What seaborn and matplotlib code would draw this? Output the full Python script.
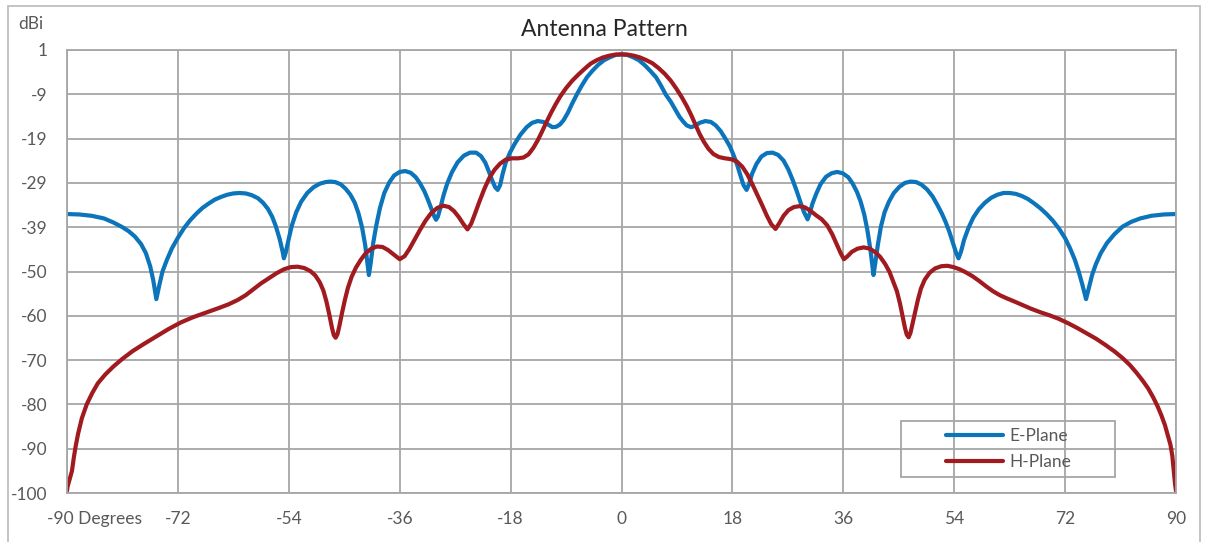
import numpy as np
import pandas as pd
import matplotlib
matplotlib.use("Agg")
import matplotlib.pyplot as plt
from matplotlib.patches import Rectangle
import seaborn as sns

# E-Plane (blue), degrees / dBi
e_deg = [-90, -88, -86, -84, -82.5, -81, -80, -79, -78, -77.2,
         -76.5, -76.0, -75.5, -75.0, -74.5, -73.8, -73, -72, -71, -70,
         -69, -68, -67, -66, -65, -64, -63, -62, -61, -60,
         -59, -58.2, -57.4, -56.7, -56.1, -55.5, -55.0, -54.8, -54.5, -54.0,
         -53.5, -52.8, -52.0, -51.0, -50.0, -49.0, -48.0, -47.3, -46.5, -45.6,
         -44.8, -44.0, -43.3, -42.7, -42.1, -41.6, -41.2, -41.0, -40.7, -40.3,
         -39.8, -39.2, -38.5, -37.7, -36.9, -36.0, -35.1, -34.2, -33.4, -32.7,
         -32.0, -31.4, -30.8, -30.4, -30.1, -29.8, -29.4, -28.9, -28.3, -27.5,
         -26.6, -25.6, -24.6, -23.6, -22.8, -22.1, -21.5, -21.0, -20.5, -20.1,
         -19.7, -19.3, -18.8, -18.1, -17.3, -16.4, -15.4, -14.5, -13.6, -12.7,
         -11.9, -11.2, -10.6, -10.0, -9.4, -8.7, -8.0, -7.2, -6.4, -5.6,
         -4.7, -3.8, -2.8, -1.8, -0.9, 0,
         0.9, 1.8, 2.8, 3.8, 4.7, 5.6, 6.4, 7.2, 8.0, 8.7,
         9.4, 10.0, 10.6, 11.3, 11.9, 12.7, 13.6, 14.5, 15.3, 16.1,
         16.9, 17.6, 18.2, 18.8, 19.3, 19.8, 20.3, 20.7, 21.2, 21.9,
         22.7, 23.6, 24.5, 25.4, 26.3, 27.1, 27.8, 28.4, 29.0, 29.6,
         30.2, 30.5, 31.0, 31.6, 32.3, 33.2, 34.1, 35.0, 35.9, 36.8,
         37.5, 38.2, 38.8, 39.4, 39.9, 40.4, 40.7, 40.9, 41.2, 41.6,
         42.1, 42.7, 43.4, 44.2, 45.1, 46.0, 46.9, 47.8, 48.7, 49.6,
         50.5, 51.3, 52.0, 52.6, 53.2, 53.8, 54.3, 54.7, 55.1, 55.6,
         56.3, 57.1, 58.0, 59.0, 60.0, 61.0, 62.0, 63.0, 64.0, 65.0,
         66.0, 67.0, 68.0, 69.0, 70.0, 71.0, 72.0, 72.8, 73.6, 74.2,
         74.8, 75.4, 75.9, 76.4, 77.0, 77.8, 78.8, 80.0, 81.3, 82.7,
         84.2, 86.0, 88.0, 90.0]
e_dbi = [-36.4, -36.5, -36.8, -37.4, -38.3, -39.4, -40.3, -41.5, -43.2, -45.3,
         -48.3, -51.5, -55.8, -52.5, -49.5, -46.9, -44.3, -41.8, -39.6, -37.8,
         -36.3, -35.0, -34.0, -33.1, -32.5, -32.0, -31.7, -31.6, -31.7, -32.1,
         -32.8, -33.8, -35.2, -37.0, -39.2, -42.0, -45.0, -46.5, -45.2, -42.0,
         -39.0, -36.0, -33.6, -31.6, -30.3, -29.5, -29.1, -29.0, -29.1, -29.6,
         -30.6, -32.0, -33.8, -36.2, -39.5, -43.5, -48.0, -50.3, -47.5, -43.0,
         -39.0, -35.0, -31.6, -29.2, -27.6, -26.8, -26.6, -27.0, -28.0, -29.4,
         -31.2, -33.2, -35.4, -36.9, -37.7, -37.0, -35.0, -32.2, -29.5, -26.8,
         -24.6, -23.1, -22.4, -22.4, -23.2, -24.7, -26.8, -28.7, -30.3, -30.9,
         -29.8, -27.3, -24.7, -22.4, -20.3, -18.3, -16.6, -15.6, -15.2, -15.4,
         -16.0, -16.6, -16.5, -16.0, -15.0, -13.3, -11.2, -9.0, -7.0, -5.2,
         -3.7, -2.4, -1.3, -0.6, -0.1, 0.0,
         -0.1, -0.6, -1.3, -2.5, -3.8, -5.2, -7.1, -9.2, -10.8, -12.5,
         -14.2, -15.3, -16.2, -16.6, -16.3, -15.6, -15.2, -15.4, -16.2, -17.5,
         -19.3, -21.0, -23.0, -25.3, -27.6, -29.8, -30.9, -29.6, -27.2, -25.0,
         -23.3, -22.5, -22.4, -22.9, -24.2, -26.3, -28.7, -31.0, -33.5, -35.9,
         -37.6, -36.5, -34.0, -31.8, -29.6, -27.9, -27.1, -26.8, -27.1, -28.0,
         -29.4, -31.3, -33.5, -36.5, -40.0, -44.5, -48.0, -50.3, -47.5, -43.5,
         -39.3, -36.0, -33.6, -31.6, -30.2, -29.3, -29.0, -29.1, -29.7, -30.8,
         -32.4, -34.4, -36.3, -38.2, -40.4, -43.0, -45.2, -46.5, -45.0, -42.3,
         -39.6, -37.2, -35.3, -33.8, -32.7, -32.0, -31.6, -31.6, -31.8, -32.3,
         -33.0, -34.0, -35.1, -36.4, -37.9, -39.7, -41.9, -44.2, -46.9, -49.5,
         -52.5, -55.8, -53.0, -50.2, -47.8, -45.3, -43.0, -41.0, -39.3, -38.2,
         -37.4, -36.8, -36.5, -36.4]

# H-Plane (red)
h_deg = [-90, -89.9, -89.6, -89.2, -88.9, -88.6, -88.2, -87.6, -86.8, -85.9,
         -85.0, -83.8, -82.5, -81.0, -79.3, -77.5, -75.5, -73.5, -71.5, -69.5,
         -67.5, -65.5, -63.8, -62.3, -61.0, -59.7, -58.5, -57.2, -56.0, -54.8,
         -53.7, -52.6, -51.5, -50.5, -49.7, -49.0, -48.4, -47.9, -47.4, -47.0,
         -46.7, -46.4, -46.1, -45.8, -45.4, -44.9, -44.4, -43.8, -43.1, -42.3,
         -41.5, -40.6, -39.7, -38.8, -37.9, -37.0, -36.0, -35.2, -34.4, -33.6,
         -32.7, -31.8, -30.9, -29.9, -28.9, -28.0, -27.2, -26.4, -25.7, -25.0,
         -24.4, -23.8, -23.1, -22.3, -21.5, -20.6, -19.7, -18.8, -17.8, -16.8,
         -15.9, -15.1, -14.3, -13.6, -12.9, -12.2, -11.5, -10.7, -9.9, -9.0,
         -8.0, -7.0, -6.0, -5.0, -4.0, -3.0, -2.0, -1.0, 0,
         1.0, 2.0, 3.0, 4.0, 5.0, 6.0, 7.0, 8.0, 8.9, 9.8,
         10.6, 11.3, 12.0, 12.7, 13.4, 14.1, 14.9, 15.8, 16.8, 17.8,
         18.7, 19.6, 20.4, 21.2, 22.0, 22.8, 23.6, 24.3, 25.0, 25.6,
         26.3, 27.1, 28.0, 28.9, 29.8, 30.7, 31.6, 32.5, 33.4, 34.2,
         35.0, 35.6, 36.1, 36.7, 37.4, 38.3, 39.3, 40.3, 41.2, 42.0,
         42.8, 43.5, 44.1, 44.7, 45.2, 45.6, 46.0, 46.3, 46.6, 46.9,
         47.2, 47.6, 48.1, 48.6, 49.2, 50.0, 50.9, 51.9, 52.9, 53.9,
         54.9, 55.9, 57.0, 58.1, 59.2, 60.3, 61.4, 62.5, 63.7, 65.0,
         66.5, 68.0, 69.5, 71.0, 72.5, 74.0, 75.5, 77.0, 78.5, 80.0,
         81.3, 82.5, 83.6, 84.6, 85.5, 86.3, 87.0, 87.6, 88.2, 88.7,
         89.1, 89.4, 89.65, 89.85, 90.0]
h_dbi = [-99.5, -98.5, -97.0, -95.0, -92.0, -89.4, -86.5, -83.0, -79.8, -77.2,
         -75.0, -73.0, -71.2, -69.4, -67.6, -66.0, -64.3, -62.6, -61.1, -59.9,
         -58.9, -57.9, -57.0, -56.0, -54.9, -53.5, -52.2, -51.0, -49.9, -49.0,
         -48.5, -48.4, -48.7, -49.4, -50.4, -51.9, -53.8, -56.3, -59.5, -62.3,
         -64.0, -64.6, -63.8, -62.0, -59.2, -56.0, -53.2, -50.7, -48.6, -46.8,
         -45.3, -44.3, -43.8, -43.9, -44.6, -45.6, -46.7, -46.0, -44.3, -42.3,
         -40.0, -37.9, -36.2, -35.0, -34.5, -34.8, -35.7, -37.1, -38.6, -39.9,
         -38.6, -36.4, -33.7, -30.8, -28.3, -26.3, -24.9, -24.0, -23.7, -23.7,
         -23.5, -22.8, -21.3, -19.6, -17.6, -15.5, -13.5, -11.4, -9.5, -7.7,
         -6.0, -4.6, -3.3, -2.1, -1.3, -0.7, -0.3, -0.05, 0.0,
         -0.05, -0.3, -0.7, -1.3, -2.0, -3.1, -4.4, -6.0, -7.8, -9.8,
         -11.8, -13.8, -16.0, -18.2, -20.0, -21.5, -22.7, -23.4, -23.7, -23.9,
         -24.4, -25.6, -27.3, -29.5, -31.9, -34.3, -36.8, -38.7, -39.8, -38.5,
         -36.8, -35.5, -34.8, -34.6, -34.9, -35.7, -36.7, -37.6, -39.0, -41.0,
         -43.5, -45.4, -46.7, -46.0, -45.0, -44.3, -44.0, -44.3, -45.1, -46.2,
         -47.8, -49.6, -51.8, -54.0, -56.8, -59.5, -62.3, -63.9, -64.5, -63.5,
         -61.6, -59.0, -56.0, -53.4, -51.4, -49.8, -48.8, -48.3, -48.2, -48.5,
         -49.0, -49.7, -50.6, -51.7, -52.9, -54.0, -54.9, -55.6, -56.3, -57.1,
         -58.0, -58.8, -59.5, -60.3, -61.3, -62.4, -63.6, -64.8, -66.2, -67.7,
         -69.2, -70.8, -72.6, -74.4, -76.2, -78.2, -80.2, -82.2, -84.5, -87.0,
         -89.0, -91.5, -95.0, -98.0, -99.5]

x_ticks = [-90, -72, -54, -36, -18, 0, 18, 36, 54, 72, 90]
x_labels = ["", "-72", "-54", "-36", "-18", "0", "18", "36", "54", "72", "90"]
y_ticks = [1, -9.1, -19.2, -29.3, -39.4, -49.5, -59.6, -69.7, -79.8, -89.9, -100]
y_labels = ["1", "-9", "-19", "-29", "-39", "-50", "-60", "-70", "-80", "-90", "-100"]

e_df = pd.DataFrame({"deg": e_deg, "dBi": e_dbi})
h_df = pd.DataFrame({"deg": h_deg, "dBi": h_dbi})

sns.set_theme(style="white")
plt.rcParams["font.family"] = ["Lato", "DejaVu Sans"]

grey = "#595959"
grid_c = "#A6A6A6"

fig = plt.figure(figsize=(12.06, 5.42), dpi=100)
ax = fig.add_axes([67/1206, 1-493/542, 1109/1206, 443/542])

sns.lineplot(data=e_df, x="deg", y="dBi", ax=ax, color="#0B74BB", lw=3, label="E-Plane",
             sort=False, solid_joinstyle="round", solid_capstyle="round")
sns.lineplot(data=h_df, x="deg", y="dBi", ax=ax, color="#A11A1F", lw=3, label="H-Plane",
             sort=False, solid_joinstyle="round", solid_capstyle="round")

ax.set_xlim(-90, 90)
ax.set_ylim(-100, 1)
ax.set_xticks(x_ticks)
ax.set_xticklabels(x_labels)
ax.set_yticks(y_ticks)
ax.set_yticklabels(y_labels)
ax.set_xlabel("")
ax.set_ylabel("")
ax.grid(True, color=grid_c, lw=1.3)
ax.set_axisbelow(True)
for s in ax.spines.values():
    s.set_color(grid_c)
    s.set_linewidth(1.3)
ax.tick_params(axis="both", length=0, labelsize=12.5, labelcolor=grey)
ax.tick_params(axis="x", pad=13)
ax.tick_params(axis="y", pad=14)

ax.annotate("-90 Degrees", xy=(-90, 0), xycoords=("data", "axes fraction"),
            xytext=(-20, -26), textcoords="offset pixels", ha="left", va="center",
            fontsize=12.5, color=grey)

# title, unit label
fig.text(604/1206, 1-30/542, "Antenna Pattern", ha="center", va="center", fontsize=16.5, color="#262626")
fig.text(18/1206, 1-24/542, "dBi", ha="left", va="center", fontsize=12.5, color=grey)

# legend
leg = ax.legend(loc="upper left", bbox_to_anchor=(946/1206, 1-428/542), bbox_transform=fig.transFigure,
                frameon=False, fontsize=12.5, handlelength=3.3, handletextpad=0.35,
                labelspacing=0.6, borderpad=0, borderaxespad=0)
for t in leg.get_texts():
    t.set_color(grey)
fig.patches.append(Rectangle((901/1206, 1-477/542), 214/1206, 56/542, transform=fig.transFigure,
                             fill=False, edgecolor=grid_c, lw=1.3))

# outer chart border
fig.patches.append(Rectangle((8/1206, -0.01), 1192/1206, 1-6/542 + 0.01, transform=fig.transFigure,
                             fill=False, edgecolor="#BFBFBF", lw=1.3))

fig.savefig("out.png", dpi=100)
